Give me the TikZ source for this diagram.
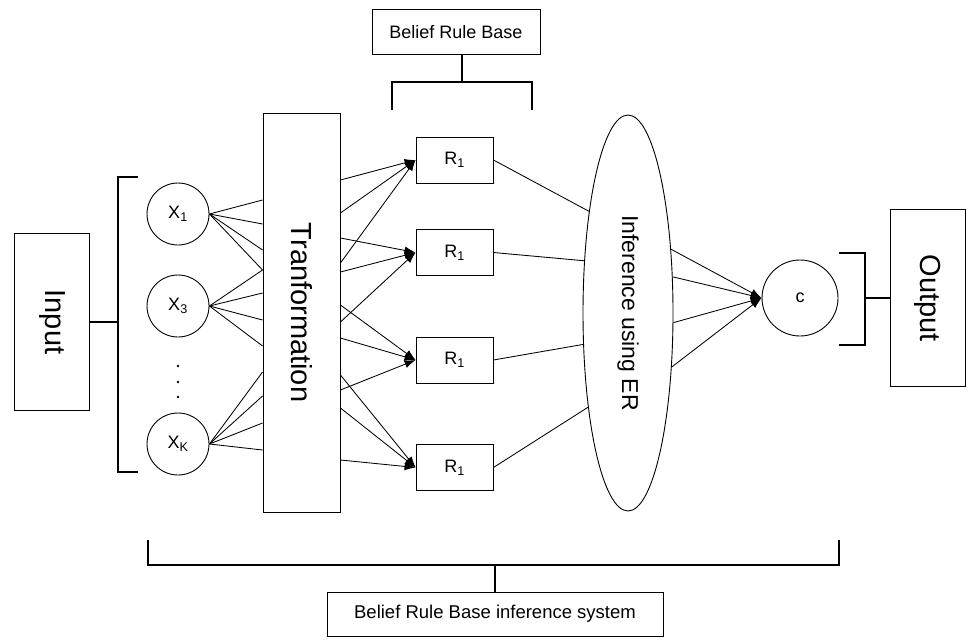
\documentclass[tikz,border=0pt]{standalone}
\usepackage{fontspec}
\setmainfont{Liberation Sans}
\usetikzlibrary{arrows.meta}
\usetikzlibrary{shapes.geometric}

\tikzset{
  box/.style={draw, line width=0.9pt, inner sep=0pt},
  varnode/.style={draw, circle, line width=0.9pt, minimum size=62pt, inner sep=0pt, font=\fontsize{18}{20}\selectfont},
  rulenode/.style={box, minimum width=77pt, minimum height=46pt, font=\fontsize{18}{20}\selectfont},
  sidebox/.style={box, minimum width=75pt, minimum height=177pt, font=\fontsize{29}{32}\selectfont},
  link/.style={line width=0.85pt},
  arr/.style={link, -{Latex[length=11pt,width=8pt]}},
  brace/.style={line width=2pt},
}

\begin{document}
\begin{tikzpicture}[x=1pt,y=-1pt]
\useasboundingbox (0,0) rectangle (968,640);

% rule base on top
\node[box, minimum width=168pt, minimum height=45pt, font=\fontsize{18}{21}\selectfont] (brb) at (456,32) {Belief Rule Base};
\coordinate (brbmid) at (462,82);
\draw[brace] (392,110) -- (392,82) -- (532,82) -- (532,110);
\draw[brace] (brbmid) -- (brbmid |- brb.south);

% input side
\node[sidebox] (input) at (52,322) {\rotatebox{-90}{Input}};
\coordinate (inmid) at (118,322);
\draw[brace] (138,177) -- (118,177) -- (118,472) -- (138,472);
\draw[brace] (input.east) -- (inmid);

\node[varnode] (x1) at (178,214) {X\textsubscript{1}};
\node[varnode] (x3) at (178,306) {X\textsubscript{3}};
\node[varnode] (xk) at (178,444) {X\textsubscript{K}};
\foreach \y in {366,382,397}{
    \fill (178,\y) circle (1.3pt);
}

% transformation
\node[box, minimum width=77pt, minimum height=399pt, font=\fontsize{29}{32}\selectfont] (trans) at (301.5,312.5) {\rotatebox{-90}{Tranformation}};
\foreach \y [count=\i] in {200,224,250,270,270,293,320,346,372,396,423,450}{
    \coordinate (tl\i) at (trans.west |- 0,\y);
}
\foreach \y [count=\i] in {180,213,263,238,272,322,305,338,390,375,408,460}{
    \coordinate (tr\i) at (trans.east |- 0,\y);
}
\foreach \src [count=\k] in {x1,x3,xk}{
    \foreach \j in {1,...,4}{
        \pgfmathtruncatemacro\n{(\k-1)*4+\j}
        \draw[link] (\src.east) -- (tl\n);
    }
}

% rules
\node[rulenode] (r1) at (454.5,160) {R\textsubscript{1}};
\node[rulenode] (r2) at (454.5,252.5) {R\textsubscript{1}};
\node[rulenode] (r3) at (454.5,360) {R\textsubscript{1}};
\node[rulenode] (r4) at (454.5,467.5) {R\textsubscript{1}};
\foreach \r [count=\k] in {r1,r2,r3,r4}{
    \foreach \j in {1,2,3}{
        \pgfmathtruncatemacro\n{(\k-1)*3+\j}
        \draw[arr] (tr\n) -- (\r.west);
    }
}

% inference
\node[draw, ellipse, line width=0.9pt, inner sep=0pt, minimum width=90pt, minimum height=396pt, font=\fontsize{23}{26}\selectfont] (er) at (628,313) {\rotatebox{-90}{Inference using ER}};
\foreach \r/\a in {r1/111,r2/130,r3/215,r4/247}{
    \draw[link] (\r.east) -- (er.\a);
}

\node[varnode, minimum size=76pt, font=\fontsize{18}{20}\selectfont] (c) at (800,298) {c};
\foreach \a in {56,39,348,309}{
    \draw[arr] (er.\a) -- (c.west);
}

% output side
\node[sidebox] (output) at (927.5,298) {\rotatebox{-90}{Output}};
\coordinate (outmid) at (865,298);
\draw[brace] (839,253) -- (865,253) -- (865,345) -- (839,345);
\draw[brace] (outmid) -- (output.west);

% whole system
\node[box, minimum width=336pt, minimum height=44pt, font=\fontsize{18.5}{21}\selectfont] (bris) at (495,614) {Belief Rule Base inference system};
\coordinate (brismid) at (495,565);
\draw[brace] (148,540) -- (148,565) -- (839,565) -- (839,540);
\draw[brace] (brismid) -- (bris.north);
\end{tikzpicture}
\end{document}
